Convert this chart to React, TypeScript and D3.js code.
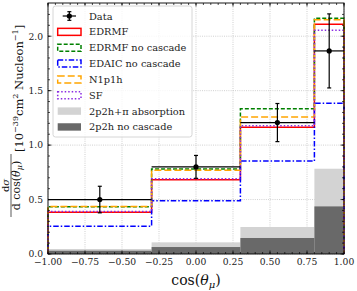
import * as d3 from "d3";

// bin edges in cos(theta_mu)
const edges = [-1, -0.3, 0.3, 0.8, 1];

// measured points (bin centres) with stat. errors
const dataX = [-0.65, 0, 0.55, 0.9];
const dataY = [0.5, 0.8, 1.207, 1.865];
const dataErr = [0.122, 0.105, 0.175, 0.34];

// model predictions per bin
const edrmf = [0.383, 0.682, 1.165, 2.11];
const edrmfNoCascade = [0.433, 0.78, 1.333, 2.165];
const edaicNoCascade = [0.255, 0.489, 0.853, 1.385];
const n1p1h = [0.437, 0.768, 1.257, 2.152];
const sf = [0.39, 0.69, 1.178, 2.055];
const p2hAbsorption = [0.046, 0.107, 0.248, 0.783];
const p2hNoCascade = [0.03, 0.064, 0.147, 0.437];

const xTicks = [-1, -0.75, -0.5, -0.25, 0, 0.25, 0.5, 0.75, 1];
const yTicks = [0, 0.5, 1, 1.5, 2];

const legendLabels = [
  "Data",
  "EDRMF",
  "EDRMF no cascade",
  "EDAIC no cascade",
  "N1p1h",
  "SF",
  "2p2h+π absorption",
  "2p2h no cascade",
];

const W = 357;
const H = 291;
const margin = { top: 3, right: 13, bottom: 37, left: 48 };
const FONT = "'DejaVu Serif', serif";

const lines = [
  { vals: edrmf, color: "#ff0000", dash: "none" },
  { vals: edrmfNoCascade, color: "#008000", dash: "4,2" },
  { vals: edaicNoCascade, color: "#0000ff", dash: "5.5,2,1.5,2" },
  { vals: n1p1h, color: "#ffa500", dash: "7,3" },
  { vals: sf, color: "#8a2be2", dash: "1.5,2" },
];

export default function App() {
  const x = d3.scaleLinear().domain([-1, 1]).range([margin.left, W - margin.right]);
  const y = d3.scaleLinear().domain([0, 2.305]).range([H - margin.bottom, margin.top]);
  const [x0, x1] = x.range();
  const [y0, y1] = y.range();

  const fmtX = (v: number) => d3.format(".2f")(v).replace("-", "−");
  const fmtY = d3.format(".1f");

  const stepPath = (vals: number[]) => {
    const pts: [number, number][] = [[x(edges[0]), y(0)]];
    vals.forEach((v, i) => {
      pts.push([x(edges[i]), y(v)]);
      pts.push([x(edges[i + 1]), y(v)]);
    });
    pts.push([x(edges[edges.length - 1]), y(0)]);
    return d3.line()(pts) ?? "";
  };

  const xMinor = d3.range(-1, 1.0001, 0.05);
  const yMinor = d3.range(0, 2.3, 0.1);

  // legend geometry
  const lgX = 53;
  const lgY = 6;
  const rowH = 15.85;
  const rowY = (i: number) => 16 + i * rowH;
  const patchX = 57.7;
  const patchW = 23.3;

  return (
    <svg
      width={W}
      height={H}
      style={{ position: "absolute", left: 0, top: 0, background: "#fff" }}
      fontFamily={FONT}
    >
      {/* grid */}
      <g stroke="#b0b0b0" strokeWidth={0.6} strokeDasharray="1,1.2">
        {xTicks.map((t) => (
          <line key={"gx" + t} x1={x(t)} x2={x(t)} y1={y0} y2={y1} />
        ))}
        {yTicks.map((t) => (
          <line key={"gy" + t} x1={x0} x2={x1} y1={y(t)} y2={y(t)} />
        ))}
      </g>

      {/* 2p2h fills */}
      {p2hAbsorption.map((v, i) => (
        <rect
          key={"a" + i}
          x={x(edges[i])}
          width={x(edges[i + 1]) - x(edges[i])}
          y={y(v)}
          height={y(0) - y(v)}
          fill="#d3d3d3"
        />
      ))}
      {p2hNoCascade.map((v, i) => (
        <rect
          key={"n" + i}
          x={x(edges[i])}
          width={x(edges[i + 1]) - x(edges[i])}
          y={y(v)}
          height={y(0) - y(v)}
          fill="#696969"
        />
      ))}

      {/* model step histograms */}
      {lines.map((l, i) => (
        <path
          key={"l" + i}
          d={stepPath(l.vals)}
          fill="none"
          stroke={l.color}
          strokeWidth={1.5}
          strokeDasharray={l.dash}
        />
      ))}

      {/* data */}
      <g stroke="#000" strokeWidth={1.2}>
        {dataX.map((dx, i) => (
          <g key={"d" + i}>
            <line x1={x(edges[i])} x2={x(edges[i + 1])} y1={y(dataY[i])} y2={y(dataY[i])} />
            <line x1={x(dx)} x2={x(dx)} y1={y(dataY[i] - dataErr[i])} y2={y(dataY[i] + dataErr[i])} />
            <line x1={x(dx) - 2} x2={x(dx) + 2} y1={y(dataY[i] + dataErr[i])} y2={y(dataY[i] + dataErr[i])} />
            <line x1={x(dx) - 2} x2={x(dx) + 2} y1={y(dataY[i] - dataErr[i])} y2={y(dataY[i] - dataErr[i])} />
            <circle cx={x(dx)} cy={y(dataY[i])} r={2.6} fill="#000" stroke="none" />
          </g>
        ))}
      </g>

      {/* ticks, inward on all four sides */}
      <g stroke="#000" strokeWidth={0.7}>
        {xMinor.map((t, i) => (
          <g key={"xm" + i}>
            <line x1={x(t)} x2={x(t)} y1={y0} y2={y0 - 2} />
            <line x1={x(t)} x2={x(t)} y1={y1} y2={y1 + 2} />
          </g>
        ))}
        {xTicks.map((t) => (
          <g key={"xM" + t}>
            <line x1={x(t)} x2={x(t)} y1={y0} y2={y0 - 3.5} />
            <line x1={x(t)} x2={x(t)} y1={y1} y2={y1 + 3.5} />
          </g>
        ))}
        {yMinor.map((t, i) => (
          <g key={"ym" + i}>
            <line x1={x0} x2={x0 + 2} y1={y(t)} y2={y(t)} />
            <line x1={x1} x2={x1 - 2} y1={y(t)} y2={y(t)} />
          </g>
        ))}
        {yTicks.map((t) => (
          <g key={"yM" + t}>
            <line x1={x0} x2={x0 + 3.5} y1={y(t)} y2={y(t)} />
            <line x1={x1} x2={x1 - 3.5} y1={y(t)} y2={y(t)} />
          </g>
        ))}
      </g>

      {/* frame */}
      <rect x={x0} y={y1} width={x1 - x0} height={y0 - y1} fill="none" stroke="#000" strokeWidth={0.9} />

      {/* tick labels */}
      <g fontSize={9.2} fill="#222">
        {xTicks.map((t) => (
          <text key={"xl" + t} x={x(t)} y={264.5} textAnchor="middle">
            {fmtX(t)}
          </text>
        ))}
        {yTicks.map((t) => (
          <text key={"yl" + t} x={43} y={y(t) + 3.3} textAnchor="end">
            {fmtY(t)}
          </text>
        ))}
      </g>

      {/* x label */}
      <text x={(x0 + x1) / 2} y={285} textAnchor="middle" fontSize={14} fill="#111">
        cos(
        <tspan fontStyle="italic">θ</tspan>
        <tspan fontStyle="italic" fontSize={10} dy={3}>μ</tspan>
        <tspan dy={-3}>)</tspan>
      </text>

      {/* y label */}
      <g transform="translate(0,124) rotate(-90)" fill="#111">
        <text x={-61.5} y={9.2} textAnchor="middle" fontSize={10}>
          d<tspan fontStyle="italic">σ</tspan>
        </text>
        <line x1={-93} x2={-30} y1={11} y2={11} stroke="#111" strokeWidth={0.7} />
        <text x={-61.5} y={20} textAnchor="middle" fontSize={11}>
          d cos(<tspan fontStyle="italic">θ</tspan>
          <tspan fontStyle="italic" fontSize={8} dy={2}>μ</tspan>
          <tspan dy={-2}>)</tspan>
        </text>
        <text x={-28} y={23} fontSize={11.5}>
          [10
          <tspan fontSize={8} dy={-5.5}>−39</tspan>
          <tspan dy={5.5}>cm</tspan>
          <tspan fontSize={8} dy={-5.5}>2</tspan>
          <tspan dy={5.5}> Nucleon</tspan>
          <tspan fontSize={8} dy={-5.5}>−1</tspan>
          <tspan dy={5.5}>]</tspan>
        </text>
      </g>

      {/* legend */}
      <rect
        x={lgX}
        y={lgY}
        width={139}
        height={131}
        rx={2.5}
        fill="#fff"
        fillOpacity={0.8}
        stroke="#cccccc"
        strokeWidth={0.8}
      />
      <g stroke="#000" strokeWidth={1.2}>
        <line x1={patchX + 5} x2={patchX + patchW - 5} y1={rowY(0)} y2={rowY(0)} />
        <line x1={patchX + patchW / 2} x2={patchX + patchW / 2} y1={rowY(0) - 4.3} y2={rowY(0) + 4.3} />
        <line x1={patchX + patchW / 2 - 2} x2={patchX + patchW / 2 + 2} y1={rowY(0) - 4.3} y2={rowY(0) - 4.3} />
        <line x1={patchX + patchW / 2 - 2} x2={patchX + patchW / 2 + 2} y1={rowY(0) + 4.3} y2={rowY(0) + 4.3} />
        <circle cx={patchX + patchW / 2} cy={rowY(0)} r={2.6} fill="#000" stroke="none" />
      </g>
      {lines.map((l, i) => (
        <rect
          key={"lg" + i}
          x={patchX}
          y={rowY(i + 1) - 3.5}
          width={patchW}
          height={7}
          fill="none"
          stroke={l.color}
          strokeWidth={1.5}
          strokeDasharray={l.dash}
        />
      ))}
      <rect x={patchX} y={rowY(6) - 3.7} width={patchW} height={7.4} fill="#d3d3d3" />
      <rect x={patchX} y={rowY(7) - 3.7} width={patchW} height={7.4} fill="#696969" />
      <g fontSize={9.8} fill="#222">
        {legendLabels.map((s, i) => (
          <text key={"lt" + i} x={89} y={rowY(i) + 3.5}>
            {s}
          </text>
        ))}
      </g>
    </svg>
  );
}
